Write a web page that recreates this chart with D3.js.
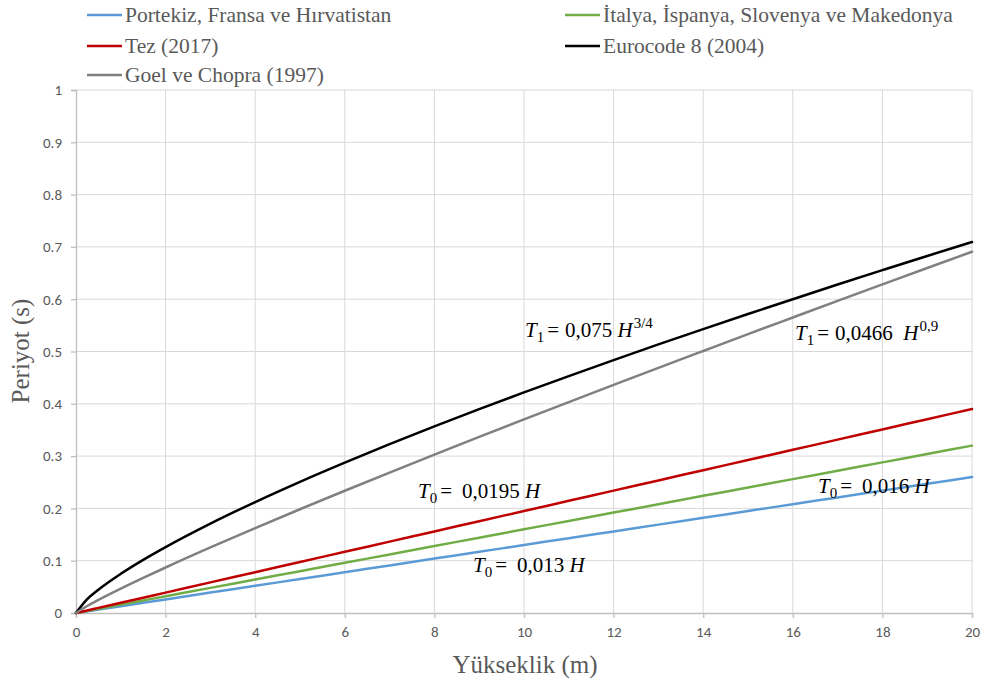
<!DOCTYPE html>
<html><head><meta charset="utf-8">
<script src="https://cdn.jsdelivr.net/npm/d3@7"></script>
<style>body{margin:0;background:#fff}svg{display:block}</style>
</head><body>
<svg id="c" width="985" height="687"></svg>
<script>
// Heights (m)
const heights = [0,0.25,0.5,1,1.5,2,3,4,5,6,7,8,9,10,11,12,13,14,15,16,17,18,19,20];
const portekiz = [0,0.00325,0.0065,0.013,0.0195,0.026,0.039,0.052,0.065,0.078,0.091,0.104,0.117,0.13,0.143,0.156,0.169,0.182,0.195,0.208,0.221,0.234,0.247,0.26];
const italya = [0,0.004,0.008,0.016,0.024,0.032,0.048,0.064,0.08,0.096,0.112,0.128,0.144,0.16,0.176,0.192,0.208,0.224,0.24,0.256,0.272,0.288,0.304,0.32];
const tez = [0,0.004875,0.00975,0.0195,0.02925,0.039,0.0585,0.078,0.0975,0.117,0.1365,0.156,0.1755,0.195,0.2145,0.234,0.2535,0.273,0.2925,0.312,0.3315,0.351,0.3705,0.39];
const eurocode = [0,0.0265,0.0446,0.075,0.1017,0.1261,0.1710,0.2121,0.2508,0.2875,0.3228,0.3568,0.3897,0.4218,0.4530,0.4836,0.5135,0.5428,0.5716,0.6,0.6280,0.6555,0.6827,0.7093];
const goel = [0,0.0134,0.0250,0.0466,0.0671,0.0870,0.1253,0.1623,0.1984,0.2337,0.2685,0.3028,0.3367,0.3702,0.4033,0.4361,0.4687,0.5010,0.5332,0.5650,0.5967,0.6282,0.6596,0.6907];
const xTicks = [0,2,4,6,8,10,12,14,16,18,20];
const yTicks = [0,0.1,0.2,0.3,0.4,0.5,0.6,0.7,0.8,0.9,1];

const seriesNames = ["Portekiz, Fransa ve Hırvatistan","İtalya, İspanya, Slovenya ve Makedonya","Tez (2017)","Eurocode 8 (2004)","Goel ve Chopra (1997)"];
const seriesValues = [portekiz, italya, tez, eurocode, goel];
const seriesColors = ["#5b9bd5","#70ad47","#c00000","#000000","#808080"];

const svg = d3.select("#c");
const L = 76, R = 972, T = 90, B = 613;
const x = d3.scaleLinear().domain([0,20]).range([L,R]);
const y = d3.scaleLinear().domain([0,1]).range([B,T]);

const tickFont = "Calibri, Carlito, 'Open Sans', sans-serif";
// gridlines
svg.append("g").selectAll("line").data(yTicks.slice(1)).join("line")
  .attr("x1",L).attr("x2",R).attr("y1",d=>y(d)).attr("y2",d=>y(d))
  .attr("stroke","#d9d9d9").attr("stroke-width",1);
svg.append("g").selectAll("line").data(xTicks.slice(1)).join("line")
  .attr("x1",d=>x(d)).attr("x2",d=>x(d)).attr("y1",T).attr("y2",B)
  .attr("stroke","#d9d9d9").attr("stroke-width",1);

// axes
const xAxis = svg.append("g").attr("transform",`translate(0,${B})`)
  .call(d3.axisBottom(x).tickValues(xTicks).tickSize(5).tickPadding(8).tickFormat(d3.format("d")));
const yAxis = svg.append("g").attr("transform",`translate(${L},0)`)
  .call(d3.axisLeft(y).tickValues(yTicks).tickSize(5).tickPadding(9).tickFormat(d=>d===0||d===1?String(d):d3.format(".1f")(d)));
[xAxis,yAxis].forEach(g=>{
  g.select(".domain").attr("stroke","#bfbfbf").attr("stroke-width",1.3);
  g.selectAll(".tick line").attr("stroke","#bfbfbf").attr("stroke-width",1.3);
  g.selectAll(".tick text").attr("fill","#595959").style("font-family",tickFont).style("font-size","15px");
});

// lines
const line = d3.line().curve(d3.curveMonotoneX);
seriesValues.forEach((vals,i)=>{
  svg.append("path")
    .attr("d", line(heights.map((h,j)=>[x(h), y(vals[j])])))
    .attr("fill","none").attr("stroke",seriesColors[i]).attr("stroke-width",2.5)
    .attr("stroke-linejoin","round").attr("stroke-linecap","round");
});

// axis titles
const serif = "'Liberation Serif', 'Times New Roman', serif";
svg.append("text").attr("x",525).attr("y",673).attr("text-anchor","middle")
  .attr("fill","#595959").style("font-family",serif).style("font-size","25px").text("Yükseklik (m)");
svg.append("text").attr("transform","translate(29,351) rotate(-90)").attr("text-anchor","middle")
  .attr("fill","#595959").style("font-family",serif).style("font-size","25px").text("Periyot (s)");

// legend
const legPos = [[87,15],[565,15],[87,46],[565,46],[87,75]];
seriesNames.forEach((n,i)=>{
  const [lx,ly] = legPos[i];
  svg.append("line").attr("x1",lx).attr("x2",lx+35).attr("y1",ly).attr("y2",ly)
    .attr("stroke",seriesColors[i]).attr("stroke-width",2.5);
  svg.append("text").attr("x",lx+38).attr("y",ly+7).attr("fill","#595959")
    .style("font-family",serif).style("font-size","21.5px").text(n);
});

// equation annotations
function eq(xp, yp, sub, gap, val, sup){
  const t = svg.append("text").attr("x",xp).attr("y",yp).attr("fill","#000")
    .style("font-family",serif).style("font-size","21px").style("white-space","pre");
  t.append("tspan").style("font-style","italic").text("T");
  t.append("tspan").attr("dy",5).style("font-size","15px").text(sub);
  t.append("tspan").attr("dy",-5).attr("dx",3).text("=");
  t.append("tspan").attr("dx",gap).text(val);
  t.append("tspan").style("font-style","italic").text("H");
  if(sup){ t.append("tspan").attr("dy",-9).attr("dx",1).style("font-size","15px").text(sup); }
}
eq(525,337,"1",6,"0,075 ","3/4");
eq(795,340,"1",6,"0,0466  ","0,9");
eq(418,498,"0",10,"0,0195 ",null);
eq(818,493,"0",10,"0,016 ",null);
eq(473,572,"0",10,"0,013 ",null);
</script>
</body></html>
